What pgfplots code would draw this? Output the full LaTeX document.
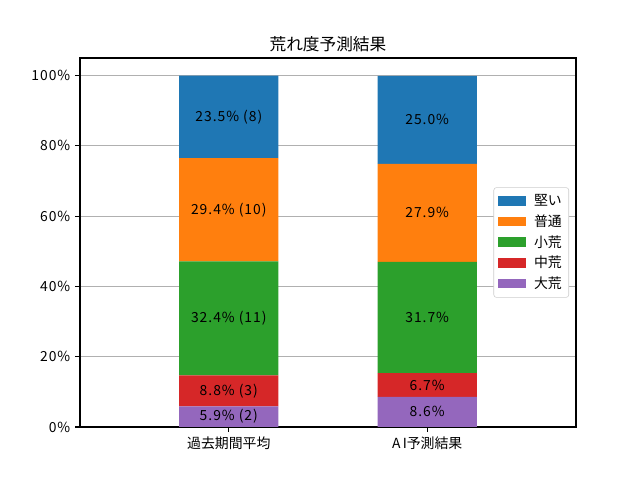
\documentclass[border=0pt]{standalone}
\usepackage{fontspec}
\setmainfont{Noto Sans CJK JP}
\newfontfamily\lat{Noto Sans CJK JP}[LetterSpace=7]
\usepackage{pgfplots}
\pgfplotsset{compat=1.18}
\definecolor{c1}{HTML}{1F77B4}
\definecolor{c2}{HTML}{FF7F0E}
\definecolor{c3}{HTML}{2CA02C}
\definecolor{c4}{HTML}{D62728}
\definecolor{c5}{HTML}{9467BD}
\definecolor{gridc}{HTML}{B0B0B0}
\pgfplotsset{
  common/.style={
    at={(0,0)}, anchor=south west,
    scale only axis, width=357.12pt, height=265.68pt,
    xmin=-0.75, xmax=1.75, ymin=0, ymax=105,
  }
}
\begin{document}
\begin{tikzpicture}[x=1pt,y=1pt]
\useasboundingbox (-57.6,-38.16) rectangle (403.2,307.44);
\begin{axis}[
  common,
  ybar stacked, bar width=0.5,
  xtick={0,1}, xticklabels={過去期間平均, {\lat A\,I}予測結果},
  ytick={0,20,40,60,80,100},
  yticklabels={0\%,20\%,40\%,60\%,80\%,100\%},
  ymajorgrids, grid style={color=gridc, line width=0.8pt},
  tick align=outside, major tick length=3.5pt,
  tick style={black, line width=0.8pt},
  axis line style={line width=0.8pt},
  xtick pos=left, ytick pos=left,
  tick label style={font=\fontsize{10}{12}\selectfont},
  yticklabel style={font=\fontsize{10}{12}\selectfont\lat},
  title={荒れ度予測結果},
  title style={font=\fontsize{12}{14}\selectfont, at={(0.5,1)}, anchor=base, yshift=-0.5pt},
  legend style={at={(0.986,0.5)}, anchor=east, draw=black!20, rounded corners=2pt,
    font=\fontsize{10}{12}\selectfont, row sep=1pt, inner sep=3pt, column sep=4pt,
    legend cell align=left},
  legend cell align=left,
  reverse legend,
  legend image code/.code={\fill[#1, sharp corners] (0pt,-3.5pt) rectangle (20pt,3.5pt);},
]
\addplot[fill=c5, draw=none] coordinates {(0,5.9) (1,8.6)};
\addlegendentry{大荒}
\addplot[fill=c4, draw=none] coordinates {(0,8.8) (1,6.7)};
\addlegendentry{中荒}
\addplot[fill=c3, draw=none] coordinates {(0,32.4) (1,31.7)};
\addlegendentry{小荒}
\addplot[fill=c2, draw=none] coordinates {(0,29.4) (1,27.9)};
\addlegendentry{普通}
\addplot[fill=c1, draw=none] coordinates {(0,23.5) (1,25.0)};
\addlegendentry{堅い}
\end{axis}
\begin{axis}[
  common, hide axis,
]
\addplot[only marks, mark=none, nodes near coords, point meta=explicit symbolic,
  every node near coord/.append style={anchor=center, font=\fontsize{10}{12}\selectfont\lat, text=black}]
  coordinates {
  (0,2.95) [5.9\% (2)]
  (0,10.3) [8.8\% (3)]
  (0,30.9) [32.4\% (11)]
  (0,61.8) [29.4\% (10)]
  (0,88.25) [23.5\% (8)]
  (1,4.3) [8.6\%]
  (1,11.95) [6.7\%]
  (1,31.15) [31.7\%]
  (1,60.95) [27.9\%]
  (1,87.4) [25.0\%]
  };
\end{axis}
\end{tikzpicture}
\end{document}
